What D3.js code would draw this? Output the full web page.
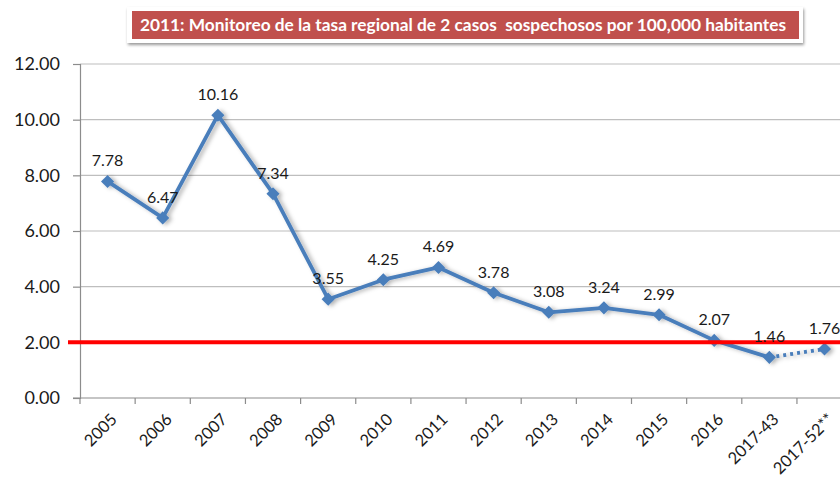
<!DOCTYPE html>
<html>
<head>
<meta charset="utf-8">
<script src="https://cdn.jsdelivr.net/npm/d3@7"></script>
<style>
  html, body { margin: 0; padding: 0; background: #fff; }
  svg { display: block; }
</style>
</head>
<body>
<svg id="chart" width="840" height="477"></svg>
<script>
const categories = ["2005","2006","2007","2008","2009","2010","2011","2012","2013","2014","2015","2016","2017-43","2017-52**"];
const values = [7.78, 6.47, 10.16, 7.34, 3.55, 4.25, 4.69, 3.78, 3.08, 3.24, 2.99, 2.07, 1.46, 1.76];
const yTicks = [0, 2, 4, 6, 8, 10, 12];
const threshold = 2;
const title = "2011: Monitoreo de la tasa regional de 2 casos  sospechosos por 100,000 habitantes";

(function () {
const svg = d3.select("#chart");
const W = 840;
const plotLeft = 80, plotBottom = 398, plotTop = 64;
const band = 55.15;

const x = d3.scaleBand().domain(categories).range([plotLeft, plotLeft + band * categories.length]).padding(0);
const y = d3.scaleLinear().domain([0, 12]).range([plotBottom, plotTop]);
const cx = d => x(d) + x.bandwidth() / 2;

const defs = svg.append("defs");
const f = defs.append("filter").attr("id", "shadow").attr("x", "-10%").attr("y", "-20%").attr("width", "120%").attr("height", "140%");
f.append("feGaussianBlur").attr("in", "SourceAlpha").attr("stdDeviation", 2.2).attr("result", "b");
f.append("feOffset").attr("in", "b").attr("dx", 2.5).attr("dy", 1).attr("result", "o");
f.append("feFlood").attr("flood-color", "#000").attr("flood-opacity", 0.3).attr("result", "c");
f.append("feComposite").attr("in", "c").attr("in2", "o").attr("operator", "in").attr("result", "s");
const m = f.append("feMerge");
m.append("feMergeNode").attr("in", "s");
m.append("feMergeNode").attr("in", "SourceGraphic");

const f2 = defs.append("filter").attr("id", "boxshadow").attr("x", "-5%").attr("y", "-30%").attr("width", "110%").attr("height", "170%");
f2.append("feGaussianBlur").attr("in", "SourceAlpha").attr("stdDeviation", 1.5).attr("result", "b");
f2.append("feOffset").attr("in", "b").attr("dx", 1).attr("dy", 2).attr("result", "o");
f2.append("feFlood").attr("flood-color", "#000").attr("flood-opacity", 0.4).attr("result", "c");
f2.append("feComposite").attr("in", "c").attr("in2", "o").attr("operator", "in").attr("result", "s");
const m2 = f2.append("feMerge");
m2.append("feMergeNode").attr("in", "s");
m2.append("feMergeNode").attr("in", "SourceGraphic");

// gridlines
svg.append("g").selectAll("line").data(yTicks.filter(t => t > 0)).join("line")
  .attr("x1", plotLeft).attr("x2", W)
  .attr("y1", d => y(d)).attr("y2", d => y(d))
  .attr("stroke", "#BEBEBE").attr("stroke-width", 1.2);

// y axis
const yAxis = svg.append("g").attr("transform", `translate(${plotLeft},0)`)
  .call(d3.axisLeft(y).tickValues(yTicks).tickFormat(d3.format(".2f")).tickSize(7).tickPadding(13));
yAxis.select(".domain").attr("stroke", "#8C8C8C").attr("stroke-width", 1.2);
yAxis.selectAll(".tick line").attr("stroke", "#8C8C8C").attr("stroke-width", 1.2);
yAxis.selectAll("text").attr("font-family", "Lato, 'Open Sans', sans-serif").attr("font-size", 18).attr("fill", "#1a1a1a");

// x axis
svg.append("line").attr("x1", plotLeft - 7).attr("x2", W).attr("y1", plotBottom).attr("y2", plotBottom)
  .attr("stroke", "#8C8C8C").attr("stroke-width", 1.2);
svg.append("g").selectAll("line").data(categories).join("line")
  .attr("x1", d => x(d)).attr("x2", d => x(d)).attr("y1", plotBottom).attr("y2", plotBottom + 6)
  .attr("stroke", "#8C8C8C").attr("stroke-width", 1.2);
svg.append("g").selectAll("text").data(categories).join("text")
  .attr("transform", d => `translate(${cx(d) + 2},${plotBottom + 14}) rotate(-45)`)
  .attr("text-anchor", "end").attr("dy", "0.72em")
  .attr("font-family", "Lato, 'Open Sans', sans-serif").attr("font-size", 16.5).attr("fill", "#1a1a1a")
  .text(d => d);

// series
const pts = categories.map((c, i) => ({c, v: values[i]}));
const line = d3.line().x(d => cx(d.c)).y(d => y(d.v));
const g = svg.append("g").attr("filter", "url(#shadow)");
g.append("path").datum(pts.slice(0, pts.length - 1)).attr("d", line)
  .attr("fill", "none").attr("stroke", "#4A7EBB").attr("stroke-width", 3.8).attr("stroke-linejoin", "round");
g.append("path").datum(pts.slice(pts.length - 2)).attr("d", line)
  .attr("fill", "none").attr("stroke", "#4A7EBB").attr("stroke-width", 3.8).attr("stroke-dasharray", "3,4");
g.selectAll("path.mk").data(pts).join("path").attr("class", "mk")
  .attr("transform", d => `translate(${cx(d.c)},${y(d.v)})`)
  .attr("d", d3.symbol().type(d3.symbolDiamond2).size(110))
  .attr("fill", "#4A7EBB");

// threshold line
svg.append("line").attr("x1", plotLeft - 12).attr("x2", W)
  .attr("y1", y(threshold)).attr("y2", y(threshold))
  .attr("stroke", "#FF0000").attr("stroke-width", 4);

// data labels
svg.append("g").selectAll("text").data(pts).join("text")
  .attr("x", d => cx(d.c)).attr("y", d => y(d.v) - 15)
  .attr("text-anchor", "middle")
  .attr("font-family", "Lato, 'Open Sans', sans-serif").attr("font-size", 16).attr("fill", "#1a1a1a")
  .text(d => d3.format(".2f")(d.v));

// title box
const tg = svg.append("g");
tg.append("rect").attr("x", 127).attr("y", 7).attr("width", 676).attr("height", 36)
  .attr("fill", "#fff").attr("filter", "url(#boxshadow)");
tg.append("rect").attr("x", 132).attr("y", 11).attr("width", 667).attr("height", 28)
  .attr("fill", "#C0504D");
tg.append("text").attr("x", 140).attr("y", 31)
  .attr("font-family", "Lato, 'Open Sans', sans-serif").attr("font-weight", "bold").attr("font-size", 17)
  .attr("fill", "#fff").attr("textLength", 646).attr("lengthAdjust", "spacingAndGlyphs")
  .style("white-space", "pre")
  .text(title);
})();
</script>
</body>
</html>
